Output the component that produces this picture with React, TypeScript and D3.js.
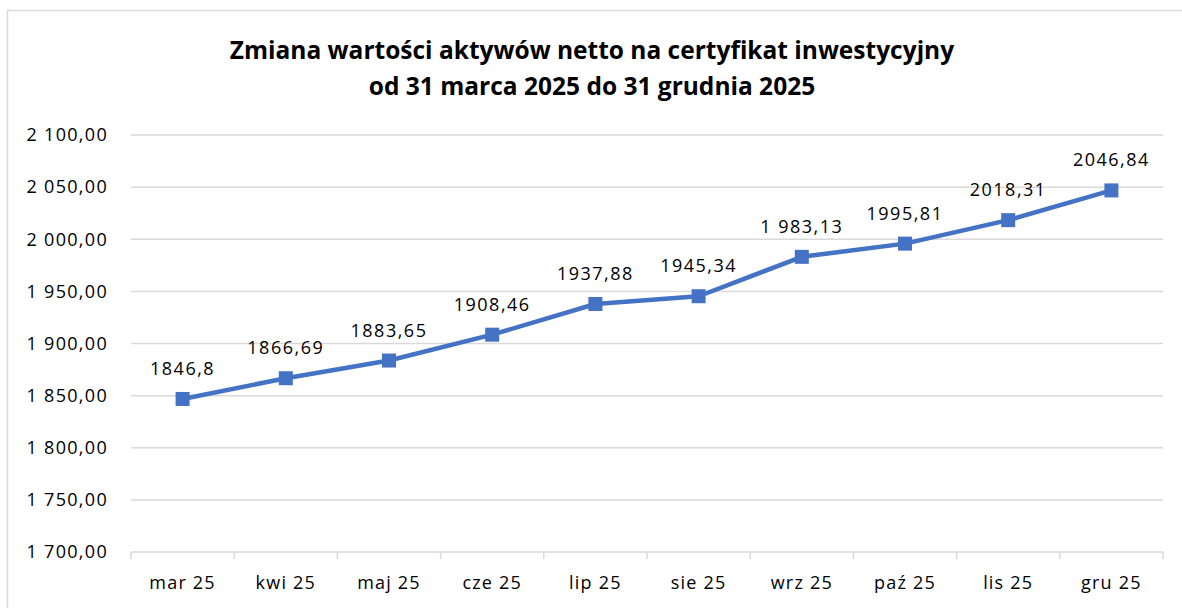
import React from "react";
import * as d3 from "d3";

const categories = ["mar 25", "kwi 25", "maj 25", "cze 25", "lip 25", "sie 25", "wrz 25", "paź 25", "lis 25", "gru 25"];
const values = [1846.8, 1866.69, 1883.65, 1908.46, 1937.88, 1945.34, 1983.13, 1995.81, 2018.31, 2046.84];
const valueLabels = ["1846,8", "1866,69", "1883,65", "1908,46", "1937,88", "1945,34", "1 983,13", "1995,81", "2018,31", "2046,84"];
const yTicks = [1700, 1750, 1800, 1850, 1900, 1950, 2000, 2050, 2100];
const yTickLabels = ["1 700,00", "1 750,00", "1 800,00", "1 850,00", "1 900,00", "1 950,00", "2 000,00", "2 050,00", "2 100,00"];
const titleLines = ["Zmiana wartości aktywów netto na certyfikat inwestycyjny", "od 31 marca 2025 do 31 grudnia 2025"];

const W = 1182;
const H = 608;
const FONT = "'Open Sans', sans-serif";
const BLUE = "#4472C4";
const GRID = "#d9d9d9";

export default function App() {
  const left = 131, right = 1163, top = 135, bottom = 552;
  const x = d3.scaleBand<string>().domain(categories).range([left, right]).padding(0);
  const y = d3.scaleLinear().domain([1700, 2100]).range([bottom, top]);
  const line = d3.line<number>()
    .x((_, i) => (x(categories[i]) as number) + x.bandwidth() / 2)
    .y((d) => y(d));
  const boundaries = categories.map((c) => x(c) as number).concat([right]);

  return (
    <svg width={W} height={H} style={{ position: "absolute", left: 0, top: 0, background: "#fff" }}>
      <rect x={0} y={0} width={W} height={H} fill="#fff" />
      <rect x={7.5} y={10.5} width={W + 10} height={H + 10} fill="none" stroke="#d9d9d9" strokeWidth={1.5} />
      {titleLines.map((t, i) => (
        <text key={i} x={592} y={59 + i * 36} textAnchor="middle" fontFamily={FONT} fontWeight={700} fontSize={24.5} fill="#000">
          {t}
        </text>
      ))}
      {yTicks.map((t, i) => (
        <g key={t}>
          <line x1={left} x2={right} y1={y(t)} y2={y(t)} stroke={GRID} strokeWidth={1.5} />
          <text x={108} y={y(t)} dy="0.35em" textAnchor="end" fontFamily={FONT} fontSize={18} letterSpacing={1.3} fill="#000">
            {yTickLabels[i]}
          </text>
        </g>
      ))}
      {boundaries.map((b, i) => (
        <line key={i} x1={b} x2={b} y1={bottom} y2={bottom + 7} stroke={GRID} strokeWidth={1.5} />
      ))}
      {categories.map((c) => (
        <text key={c} x={(x(c) as number) + x.bandwidth() / 2} y={589} textAnchor="middle" fontFamily={FONT} fontSize={18} letterSpacing={1.2} fill="#000">
          {c}
        </text>
      ))}
      <path d={line(values) || ""} fill="none" stroke={BLUE} strokeWidth={4.5} strokeLinejoin="round" />
      {values.map((v, i) => {
        const cx = (x(categories[i]) as number) + x.bandwidth() / 2;
        const cy = y(v);
        return (
          <g key={i}>
            <rect x={cx - 7} y={cy - 7} width={14} height={14} fill={BLUE} />
            <text x={cx} y={cy - 24} textAnchor="middle" fontFamily={FONT} fontSize={18} letterSpacing={1.5} fill="#000">
              {valueLabels[i]}
            </text>
          </g>
        );
      })}
    </svg>
  );
}
